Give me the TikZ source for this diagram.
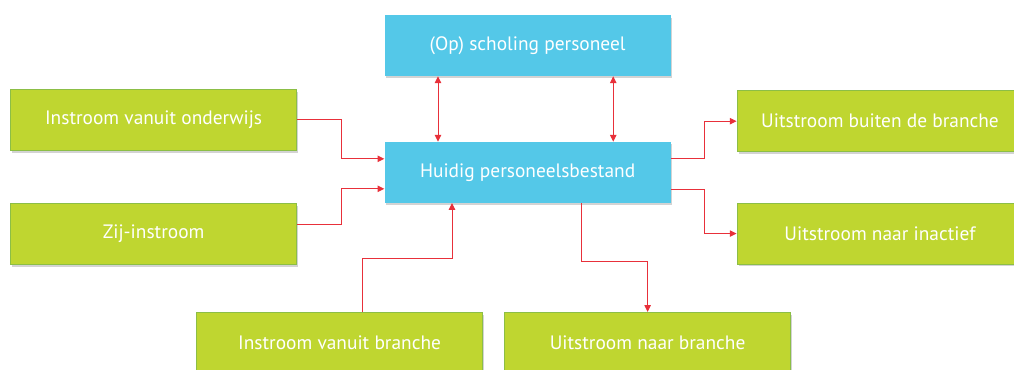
\documentclass[tikz,border=0pt]{standalone}
\usepackage{fontspec}
\setmainfont{PT Sans}
\usetikzlibrary{arrows.meta,shadows}

\definecolor{boxblue}{RGB}{84,200,232}
\definecolor{boxgreen}{RGB}{191,214,48}
\definecolor{greenline}{RGB}{140,190,70}
\definecolor{flowred}{RGB}{232,48,58}

\tikzset{
  kern/.style={fill=boxblue, minimum width=7.15cm, minimum height=1.52cm,
    inner sep=0pt, text=white, font=\fontsize{13.8}{16}\selectfont,
    drop shadow={shadow xshift=0.4mm, shadow yshift=-0.6mm, opacity=0.35}},
  stroom/.style={kern, fill=boxgreen, draw=greenline, line width=0.6pt},
  flow/.style={draw=flowred, line width=0.7pt,
    -{Triangle[length=1.7mm,width=1.6mm]}},
  tweezijdig/.style={flow, {Triangle[length=1.7mm,width=1.6mm]}-{Triangle[length=1.7mm,width=1.6mm]}},
}

\begin{document}
\begin{tikzpicture}
        \useasboundingbox (0,0) rectangle (25.35,9.25);                        %

        \node [kern]   (scholing)   at (13.19,8.11)   {(Op) scholing personeel};  %boven
        \node [kern]   (huidig)     at (13.19,4.94)   {Huidig personeelsbestand}; %midden

        \node [stroom] (onderwijs)  at (3.84,6.25)    {Instroom vanuit onderwijs};%links
        \node [stroom] (zij)        at (3.84,3.40)    {Zij-instroom};             %
        \node [stroom] (inbranche)  at (8.49,0.68)    {Instroom vanuit branche};  %onder
        \node [stroom] (uitbranche) at (16.19,0.68)   {Uitstroom naar branche};   %
        \node [stroom] (buiten)     at (22.00,6.22)   {Uitstroom buiten de branche};%rechts
        \node [stroom] (inactief)   at (22.00,3.41)   {Uitstroom naar inactief};  %

        \draw [tweezijdig] ([xshift=-22.4mm]scholing.south) -- ([xshift=-22.4mm]huidig.north); %
        \draw [tweezijdig] ([xshift=21.4mm]scholing.south)  -- ([xshift=21.4mm]huidig.north);  %

        \draw [flow] (onderwijs.east) -- ++(1.12,0) |- ([yshift=3.4mm]huidig.west);             %instroom
        \draw [flow] ([yshift=2.5mm]zij.east) -- ++(1.12,0) |- ([yshift=-4.1mm]huidig.west);    %
        \draw [flow] ([xshift=5.6mm]inbranche.north) -- ++(0,1.33) -| ([xshift=-18.9mm]huidig.south); %

        \draw [flow] ([xshift=13.4mm]huidig.south) -- ++(0,-1.45) -| (uitbranche.north);        %uitstroom
        \draw [flow] ([yshift=3.4mm]huidig.east) -- ++(0.85,0) |- (buiten.west);                %
        \draw [flow] ([yshift=-4.4mm]huidig.east) -- ++(0.85,0) |- (inactief.west);             %
\end{tikzpicture}
\end{document}
